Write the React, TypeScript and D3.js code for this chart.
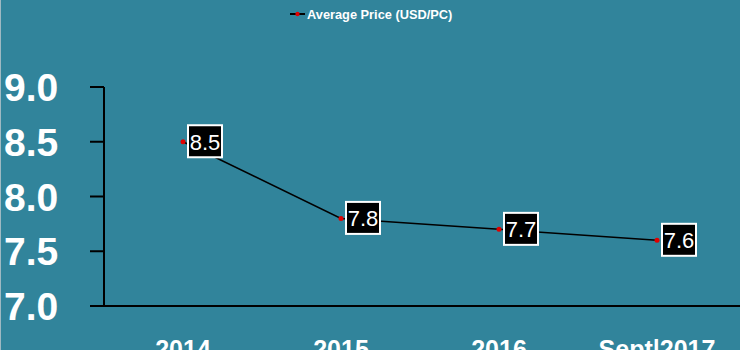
import React from "react";
import * as d3 from "d3";

const categories = ["2014", "2015", "2016", "Sept|2017"];
const prices = [8.5, 7.8, 7.7, 7.6];
const yTicks = [7.0, 7.5, 8.0, 8.5, 9.0];
const seriesName = "Average Price (USD/PC)";

const W = 740;
const H = 350;
const BG = "#31849B";

export default function App() {
  const x = d3.scaleBand<string>().domain(categories).range([104, 736]);
  const y = d3.scaleLinear().domain([7, 9]).range([306, 87]);
  const cx = (c: string) => (x(c) as number) + x.bandwidth() / 2;
  const line = d3
    .line<number>()
    .x((_, i) => cx(categories[i]))
    .y((d) => y(d));

  return (
    <svg
      width={W}
      height={H}
      style={{ position: "fixed", left: 0, top: 0, display: "block" }}
      fontFamily="'Liberation Sans', Arial, sans-serif"
    >
      <rect x={0} y={0} width={W} height={H} fill={BG} />
      <line x1={0.5} y1={0} x2={0.5} y2={H} stroke="#9fb9c2" strokeWidth={1} />

      {/* legend */}
      <g>
        <line x1={290} x2={305} y1={14} y2={14} stroke="#000" strokeWidth={2} />
        <circle cx={297.5} cy={14} r={2.2} fill="#e00000" />
        <text x={307} y={18.5} fill="#fff" fontSize={12.8} fontWeight="bold">
          {seriesName}
        </text>
      </g>

      {/* y axis */}
      <line x1={104} x2={104} y1={y(9)} y2={y(7)} stroke="#000" strokeWidth={2} />
      {yTicks.map((t) => (
        <g key={t}>
          <line x1={90} x2={104} y1={y(t)} y2={y(t)} stroke="#000" strokeWidth={2} />
          <text
            x={4}
            y={y(t) + 14}
            fill="#fff"
            fontSize={39}
            fontWeight="bold"
          >
            {t.toFixed(1)}
          </text>
        </g>
      ))}

      {/* x axis */}
      <line x1={90} x2={W} y1={y(7)} y2={y(7)} stroke="#000" strokeWidth={2} />
      {categories.map((c) => (
        <text
          key={c}
          x={cx(c)}
          y={358}
          fill="#fff"
          fontSize={25}
          fontWeight="bold"
          textAnchor="middle"
        >
          {c}
        </text>
      ))}

      {/* series */}
      <path d={line(prices) || ""} fill="none" stroke="#000" strokeWidth={1.5} />
      {prices.map((v, i) => (
        <circle key={i} cx={cx(categories[i])} cy={y(v)} r={2.5} fill="#e00000" />
      ))}

      {/* data labels */}
      {prices.map((v, i) => {
        const px = cx(categories[i]);
        const py = y(v);
        return (
          <g key={"l" + i}>
            <rect
              x={px + 5}
              y={py - 16.5}
              width={34}
              height={32}
              fill="#000"
              stroke="#fff"
              strokeWidth={2}
            />
            <text
              x={px + 22}
              y={py + 8}
              fill="#fff"
              fontSize={22}
              textAnchor="middle"
            >
              {v.toFixed(1)}
            </text>
          </g>
        );
      })}
    </svg>
  );
}
